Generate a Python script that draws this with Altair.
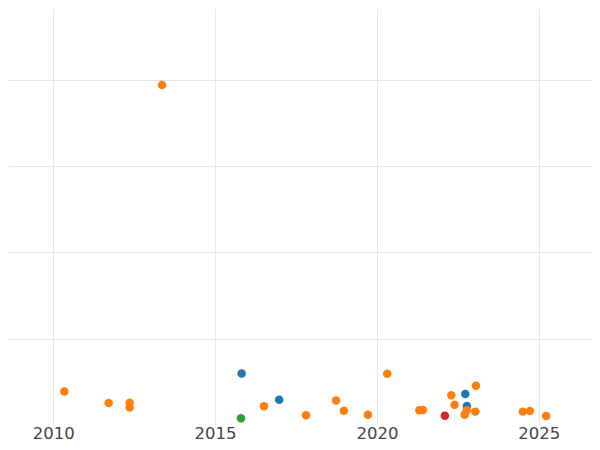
import altair as alt
import pandas as pd

# categories and values
groups = ["A", "B", "C", "D"]
group_colors = ["#1f77b4", "#ff7f0e", "#2ca02c", "#d62728"]

series_group = [
    "A", "A", "A", "A",
    "C",
    "D",
    "B", "B", "B", "B", "B", "B", "B", "B", "B", "B", "B", "B", "B", "B",
    "B", "B", "B", "B", "B", "B", "B", "B",
]
series_year = [
    2015.82, 2016.98, 2022.73, 2022.78,
    2015.80,
    2022.10,
    2010.34, 2011.71, 2012.36, 2012.36, 2013.36, 2016.51, 2017.81, 2018.74,
    2018.98, 2019.72, 2020.32, 2021.31, 2021.42, 2022.30, 2022.40, 2022.78,
    2022.71, 2023.06, 2023.04, 2024.51, 2024.73, 2025.23,
]
series_value = [
    59.7, 29.3, 35.8, 21.9,
    7.7,
    10.8,
    38.9, 25.4, 25.8, 20.4, 393.9, 21.6, 11.2, 28.5,
    16.6, 12.0, 59.3, 17.0, 17.3, 34.6, 23.5, 17.0,
    12.0, 45.5, 15.5, 15.5, 16.2, 10.4,
]

x_ticks = [2010, 2015, 2020, 2025]
y_ticks = [100, 200, 300, 400]

df = pd.DataFrame({"group": series_group, "year": series_year, "value": series_value})
df["order"] = range(len(df))

chart = (
    alt.Chart(df)
    .mark_circle(size=72, opacity=1)
    .encode(
        x=alt.X(
            "year:Q",
            scale=alt.Scale(domain=[2008.60, 2026.647], nice=False, zero=False),
            axis=alt.Axis(
                values=x_ticks,
                format="d",
                title=None,
                ticks=False,
                domain=False,
                labelPadding=0,
                labelFontSize=16.5,
                labelColor="#444444",
                labelFont="DejaVu Sans",
                gridColor="#e6e6e6",
            ),
        ),
        y=alt.Y(
            "value:Q",
            scale=alt.Scale(domain=[0, 483.1], nice=False, zero=False),
            axis=alt.Axis(
                values=y_ticks,
                labels=False,
                ticks=False,
                domain=False,
                title=None,
                gridColor="#e6e6e6",
            ),
        ),
        color=alt.Color(
            "group:N",
            scale=alt.Scale(domain=groups, range=group_colors),
            legend=None,
        ),
        order="order:Q",
    )
    .properties(
        width=584,
        height=417,
        autosize=alt.AutoSizeParams(type="none"),
        padding={"top": 0, "left": 0, "right": 0, "bottom": 17},
    )
    .configure_view(stroke=None)
)

chart.save("out.html", embed_options={"renderer": "svg", "actions": False})
